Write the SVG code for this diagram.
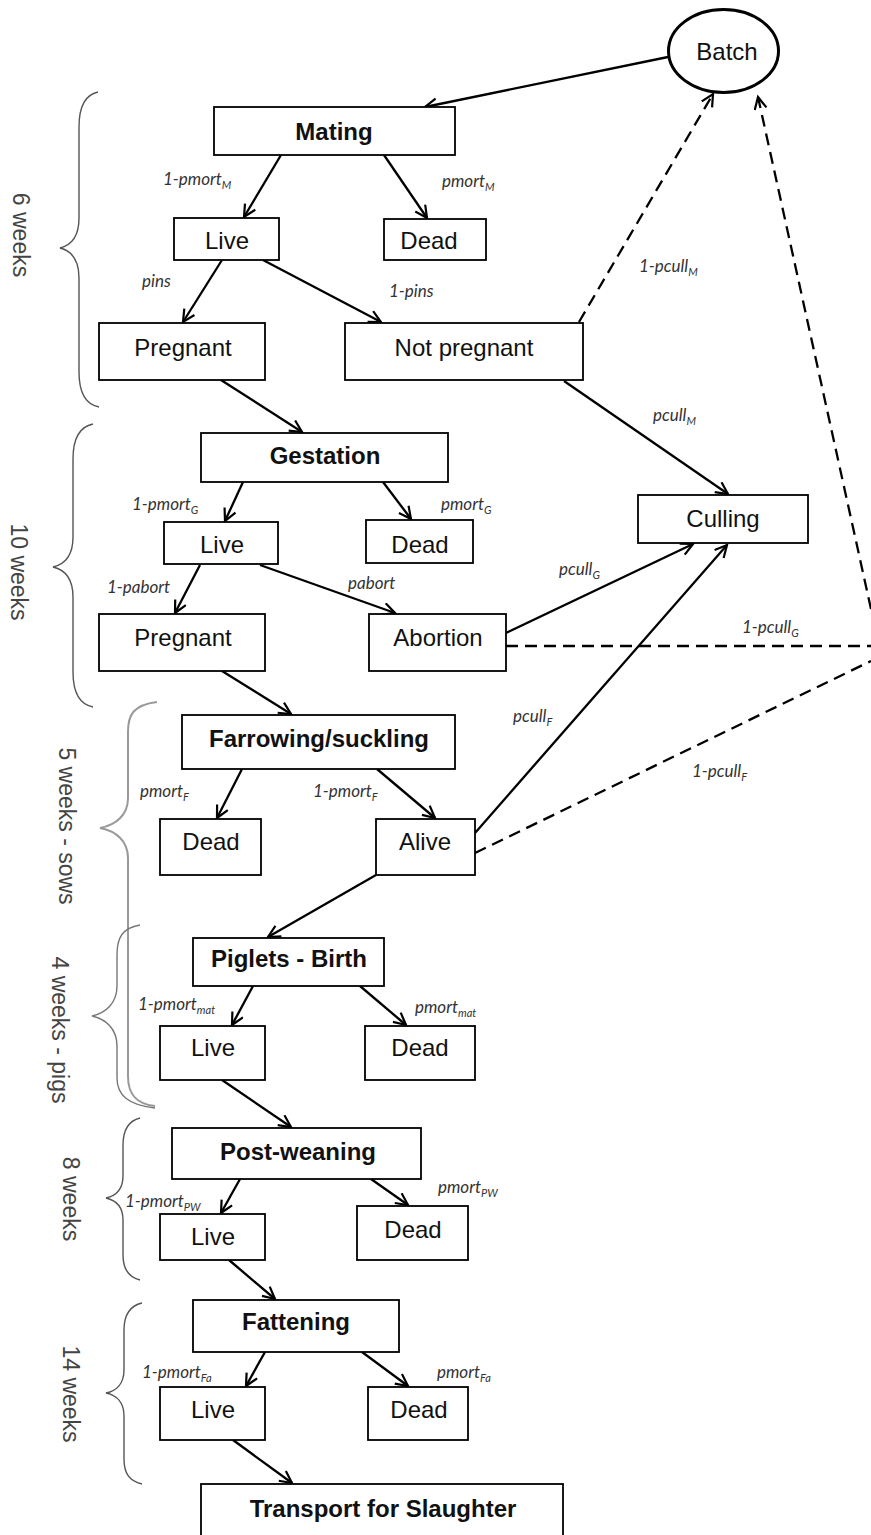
<svg xmlns="http://www.w3.org/2000/svg" width="871" height="1535" viewBox="0 0 871 1535">
<style>
.box{fill:#fff;stroke:#000;stroke-width:1.8}
.nt{font-family:"Liberation Sans",Arial,sans-serif;font-size:24px;fill:#111;text-anchor:middle}
.bt{font-weight:bold}
.ln{fill:none;stroke:#000;stroke-width:2.3}
.ds{fill:none;stroke:#000;stroke-width:2.3;stroke-dasharray:12 7}
.lb{font-family:Lato,"Open Sans",sans-serif;font-style:italic;font-size:17px;fill:#333}
.sub{font-size:11px}
.br{fill:none;stroke:#555;stroke-width:1.4}
.wk{font-family:"Liberation Sans",Arial,sans-serif;font-size:23px;fill:#444;text-anchor:middle}
</style>
<defs>
<marker id="ah" markerWidth="16" markerHeight="16" refX="13" refY="7" orient="auto" markerUnits="userSpaceOnUse">
<path d="M1,1 L13,7 L1,13" fill="none" stroke="#000" stroke-width="2.2"/>
</marker>
</defs>

<g id="braces">
<path class="br" d="M98,92 C84,95 79,110 79,127 L79,218 C79,235 72,245 60,248 C72,251 79,261 79,278 L79,372 C79,389 84,404 99,407"/>
<path class="br" d="M93,424 C78,427 73,442 73,459 L73,537 C73,554 66,564 53,567 C66,570 73,580 73,597 L73,672 C73,689 78,704 93,707"/>
<path class="br" d="M157,702 C133,705 128,715 128,732 L128,798 C128,815 116,825 100,828 C116,831 128,841 128,858 L128,1076 C128,1093 135,1104 155,1106" style="stroke:#999;stroke-width:2"/>
<path class="br" d="M140,925 C122,928 117,938 117,955 L117,986 C117,1003 106,1013 92,1016 C106,1019 117,1029 117,1046 L117,1078 C117,1095 128,1105 155,1108" style="stroke:#777"/>
<path class="br" d="M140,1118 C128,1121 123,1131 123,1145 L123,1176 C123,1190 115,1196 106,1198 C115,1200 123,1206 123,1220 L123,1255 C123,1269 128,1277 140,1280"/>
<path class="br" d="M142,1303 C129,1306 124,1316 124,1330 L124,1370 C124,1384 116,1391 106,1393 C116,1395 124,1402 124,1416 L124,1459 C124,1473 129,1481 142,1484"/>
<text class="wk" transform="translate(13 235) rotate(90)">6 weeks</text>
<text class="wk" transform="translate(11 572) rotate(90)">10 weeks</text>
<text class="wk" transform="translate(59 826) rotate(90)">5 weeks - sows</text>
<text class="wk" transform="translate(52 1030) rotate(90)">4 weeks - pigs</text>
<text class="wk" transform="translate(63 1199) rotate(90)">8 weeks</text>
<text class="wk" transform="translate(63 1394) rotate(90)">14 weeks</text>
</g>

<g id="connectors">
<path class="ln" marker-end="url(#ah)" d="M668,57 L425,107"/>
<path class="ln" marker-end="url(#ah)" d="M281,155 L244,217"/>
<path class="ln" marker-end="url(#ah)" d="M384,155 L427,218"/>
<path class="ln" marker-end="url(#ah)" d="M222,260 L183,322"/>
<path class="ln" marker-end="url(#ah)" d="M263,260 L381,322"/>
<path class="ds" marker-end="url(#ah)" d="M579,322 L713,94"/>
<path class="ds" marker-end="url(#ah)" d="M871,609 L758,97"/>
<path class="ln" marker-end="url(#ah)" d="M564,381 L728,494"/>
<path class="ln" marker-end="url(#ah)" d="M221,380 L302,432"/>
<path class="ln" marker-end="url(#ah)" d="M243,482 L225,521"/>
<path class="ln" marker-end="url(#ah)" d="M383,482 L411,519"/>
<path class="ln" marker-end="url(#ah)" d="M200,565 L175,613"/>
<path class="ln" marker-end="url(#ah)" d="M260,565 L395,613"/>
<path class="ln" marker-end="url(#ah)" d="M506,633 L693,544"/>
<path class="ds" d="M506,646 L871,646"/>
<path class="ln" marker-end="url(#ah)" d="M475,833 L727,545"/>
<path class="ds" d="M475,853 L871,661"/>
<path class="ln" marker-end="url(#ah)" d="M222,671 L291,714"/>
<path class="ln" marker-end="url(#ah)" d="M242,769 L217,818"/>
<path class="ln" marker-end="url(#ah)" d="M377,769 L435,818"/>
<path class="ln" marker-end="url(#ah)" d="M376,875 L268,937"/>
<path class="ln" marker-end="url(#ah)" d="M253,986 L232,1025"/>
<path class="ln" marker-end="url(#ah)" d="M360,986 L406,1025"/>
<path class="ln" marker-end="url(#ah)" d="M222,1080 L291,1127"/>
<path class="ln" marker-end="url(#ah)" d="M240,1179 L221,1213"/>
<path class="ln" marker-end="url(#ah)" d="M371,1179 L408,1205"/>
<path class="ln" marker-end="url(#ah)" d="M229,1260 L275,1299"/>
<path class="ln" marker-end="url(#ah)" d="M265,1352 L246,1386"/>
<path class="ln" marker-end="url(#ah)" d="M362,1352 L408,1386"/>
<path class="ln" marker-end="url(#ah)" d="M233,1440 L292,1483"/>
</g>

<g id="labels">
<text class="lb" x="163" y="185">1-pmort<tspan class="sub" dy="4">M</tspan></text>
<text class="lb" x="442" y="187">pmort<tspan class="sub" dy="4">M</tspan></text>
<text class="lb" x="142" y="287">pins</text>
<text class="lb" x="389" y="297">1-pins</text>
<text class="lb" x="639" y="272">1-pcull<tspan class="sub" dy="4">M</tspan></text>
<text class="lb" x="653" y="421">pcull<tspan class="sub" dy="4">M</tspan></text>
<text class="lb" x="132" y="510">1-pmort<tspan class="sub" dy="4">G</tspan></text>
<text class="lb" x="441" y="510">pmort<tspan class="sub" dy="4">G</tspan></text>
<text class="lb" x="107" y="593">1-pabort</text>
<text class="lb" x="348" y="589">pabort</text>
<text class="lb" x="559" y="575">pcull<tspan class="sub" dy="4">G</tspan></text>
<text class="lb" x="742" y="633">1-pcull<tspan class="sub" dy="4">G</tspan></text>
<text class="lb" x="513" y="722">pcull<tspan class="sub" dy="4">F</tspan></text>
<text class="lb" x="692" y="777">1-pcull<tspan class="sub" dy="4">F</tspan></text>
<text class="lb" x="140" y="797">pmort<tspan class="sub" dy="4">F</tspan></text>
<text class="lb" x="313" y="797">1-pmort<tspan class="sub" dy="4">F</tspan></text>
<text class="lb" x="138" y="1010">1-pmort<tspan class="sub" dy="4">mat</tspan></text>
<text class="lb" x="415" y="1013">pmort<tspan class="sub" dy="4">mat</tspan></text>
<text class="lb" x="125" y="1207">1-pmort<tspan class="sub" dy="4">PW</tspan></text>
<text class="lb" x="438" y="1193">pmort<tspan class="sub" dy="4">PW</tspan></text>
<text class="lb" x="142" y="1378">1-pmort<tspan class="sub" dy="4">Fa</tspan></text>
<text class="lb" x="437" y="1378">pmort<tspan class="sub" dy="4">Fa</tspan></text>
</g>

<g id="batch"><ellipse cx="723.5" cy="51" rx="55" ry="41.5" fill="#fff" stroke="#000" stroke-width="3"/><text class="nt" x="727" y="60">Batch</text></g>
<g id="mating"><rect class="box" x="214" y="107" width="241" height="48"/><text class="nt bt" x="334" y="140">Mating</text></g>
<g id="live-m"><rect class="box" x="174" y="218" width="105" height="42"/><text class="nt" x="227" y="249">Live</text></g>
<g id="dead-m"><rect class="box" x="384" y="219" width="102" height="41"/><text class="nt" x="429" y="249">Dead</text></g>
<g id="pregnant-m"><rect class="box" x="99" y="323" width="166" height="57"/><text class="nt" x="183" y="356">Pregnant</text></g>
<g id="not-pregnant"><rect class="box" x="345" y="323" width="238" height="57"/><text class="nt" x="464" y="356">Not pregnant</text></g>
<g id="gestation"><rect class="box" x="201" y="433" width="247" height="49"/><text class="nt bt" x="325" y="464">Gestation</text></g>
<g id="culling"><rect class="box" x="638" y="495" width="170" height="48"/><text class="nt" x="723" y="527">Culling</text></g>
<g id="live-g"><rect class="box" x="164" y="522" width="114" height="42"/><text class="nt" x="222" y="553">Live</text></g>
<g id="dead-g"><rect class="box" x="366" y="520" width="107" height="43"/><text class="nt" x="420" y="553">Dead</text></g>
<g id="pregnant-g"><rect class="box" x="99" y="614" width="166" height="57"/><text class="nt" x="183" y="646">Pregnant</text></g>
<g id="abortion"><rect class="box" x="369" y="614" width="137" height="57"/><text class="nt" x="438" y="646">Abortion</text></g>
<g id="farrowing"><rect class="box" x="182" y="715" width="273" height="54"/><text class="nt bt" x="319" y="747">Farrowing/suckling</text></g>
<g id="dead-f"><rect class="box" x="160" y="819" width="101" height="56"/><text class="nt" x="211" y="850">Dead</text></g>
<g id="alive"><rect class="box" x="376" y="819" width="99" height="56"/><text class="nt" x="425" y="850">Alive</text></g>
<g id="piglets-birth"><rect class="box" x="193" y="938" width="191" height="48"/><text class="nt bt" x="289" y="967">Piglets - Birth</text></g>
<g id="live-p"><rect class="box" x="160" y="1026" width="105" height="54"/><text class="nt" x="213" y="1056">Live</text></g>
<g id="dead-p"><rect class="box" x="365" y="1026" width="110" height="54"/><text class="nt" x="420" y="1056">Dead</text></g>
<g id="post-weaning"><rect class="box" x="172" y="1128" width="249" height="51"/><text class="nt bt" x="298" y="1160">Post-weaning</text></g>
<g id="live-pw"><rect class="box" x="160" y="1214" width="105" height="46"/><text class="nt" x="213" y="1245">Live</text></g>
<g id="dead-pw"><rect class="box" x="357" y="1206" width="111" height="54"/><text class="nt" x="413" y="1238">Dead</text></g>
<g id="fattening"><rect class="box" x="193" y="1300" width="206" height="52"/><text class="nt bt" x="296" y="1330">Fattening</text></g>
<g id="live-fa"><rect class="box" x="160" y="1387" width="105" height="53"/><text class="nt" x="213" y="1418">Live</text></g>
<g id="dead-fa"><rect class="box" x="368" y="1387" width="100" height="53"/><text class="nt" x="419" y="1418">Dead</text></g>
<g id="transport"><rect class="box" x="201" y="1484" width="362" height="60"/><text class="nt bt" x="383" y="1517">Transport for Slaughter</text></g>
</svg>
